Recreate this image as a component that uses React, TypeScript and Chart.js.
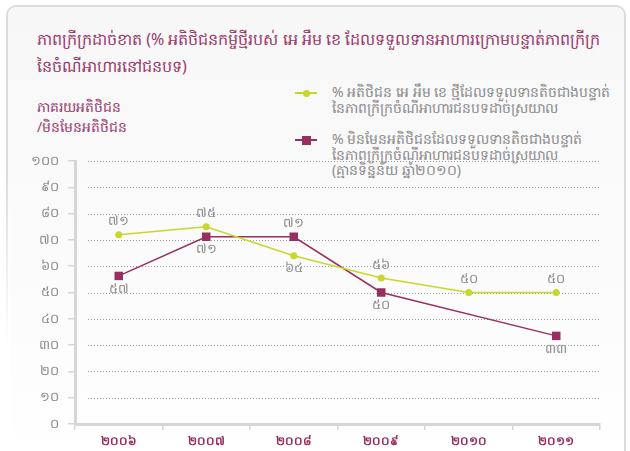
import React, { useEffect, useRef } from "react";
import { Chart, registerables } from "chart.js";

Chart.register(...registerables);

const categories = ["២០០៦", "២០០៧", "២០០៨", "២០០៩", "២០១០", "២០១១"];
const clientValues = [72, 75, 64, 55.5, 50, 50];
const nonClientValues: (number | null)[] = [56.3, 71.2, 71.2, 50, null, 33.5];
const clientLabels = ["៧១", "៧៥", "៦៤", "៥៦", "៥០", "៥០"];
const nonClientLabels = ["៥៧", "៧១", "៧១", "៥០", "", "៣៣"];
const clientLabelPos = ["above", "above", "below", "above", "above", "above"];
const nonClientLabelPos = ["below", "below", "above", "below", "below", "below"];
const yTickValues = [0, 10, 20, 30, 40, 50, 60, 70, 80, 90, 100];

const titleLines = [
  "ភាពក្រីក្រដាច់ខាត (% អតិថិជនកម្ចីថ្មីរបស់ អេ អឹម ខេ ដែលទទួលទានអាហារក្រោមបន្ទាត់ភាពក្រីក្រ",
  "នៃចំណីអាហារនៅជនបទ)",
];
const yTitleLines = ["ភាគរយអតិថិជន", "/មិនមែនអតិថិជន"];
const legendClient = [
  "% អតិថិជន អេ អឹម ខេ ថ្មីដែលទទួលទានតិចជាងបន្ទាត់",
  "នៃភាពក្រីក្រចំណីអាហារជនបទដាច់ស្រយាល",
];
const legendNonClient = [
  "% មិនមែនអតិថិជនដែលទទួលទានតិចជាងបន្ទាត់",
  "នៃភាពក្រីក្រចំណីអាហារជនបទដាច់ស្រយាល",
  "(គ្មានទិន្នន័យ ឆ្នាំ២០១០)",
];

const GREEN = "#c8d82a";
const PURPLE = "#982f61";
const TITLE_COLOR = "#9a3a6d";
const GRAY_TEXT = "#8a8a8a";
const FONT = "'Noto Sans', 'DejaVu Sans', sans-serif";

const khmerDigits = ["០", "១", "២", "៣", "៤", "៥", "៦", "៧", "៨", "៩"];
const toKhmer = (n: number) =>
  String(n)
    .split("")
    .map((c) => (c >= "0" && c <= "9" ? khmerDigits[+c] : c))
    .join("");

const gridPlugin = {
  id: "dottedGrid",
  beforeDatasetsDraw(chart: any) {
    const { ctx, chartArea, scales } = chart;
    const y = scales.y;
    ctx.save();
    ctx.strokeStyle = "#9c9c9c";
    ctx.lineWidth = 1;
    ctx.setLineDash([1, 2]);
    yTickValues.forEach((v) => {
      if (v === 0) return;
      const py = Math.round(y.getPixelForValue(v)) + 0.5;
      ctx.beginPath();
      ctx.moveTo(chartArea.left + 13, py);
      ctx.lineTo(chartArea.right, py);
      ctx.stroke();
    });
    ctx.restore();
  },
};

const labelPlugin = {
  id: "pointLabels",
  afterDatasetsDraw(chart: any) {
    const { ctx } = chart;
    const sets = [
      { labels: clientLabels, pos: clientLabelPos },
      { labels: nonClientLabels, pos: nonClientLabelPos },
    ];
    ctx.save();
    ctx.font = `13px ${FONT}`;
    ctx.fillStyle = GRAY_TEXT;
    ctx.textAlign = "center";
    ctx.textBaseline = "middle";
    sets.forEach((s, di) => {
      const meta = chart.getDatasetMeta(di);
      meta.data.forEach((pt: any, i: number) => {
        const txt = s.labels[i];
        if (!txt || pt.skip) return;
        const dy = s.pos[i] === "above" ? -13 : 13;
        ctx.fillText(txt, pt.x, pt.y + dy);
      });
    });
    ctx.restore();
  },
};

export default function App() {
  const canvasRef = useRef<HTMLCanvasElement | null>(null);

  useEffect(() => {
    if (!canvasRef.current) return;
    const chart = new Chart(canvasRef.current, {
      type: "line",
      data: {
        labels: categories,
        datasets: [
          {
            label: legendClient.join(" "),
            data: clientValues,
            borderColor: GREEN,
            backgroundColor: GREEN,
            borderWidth: 1.5,
            pointStyle: "circle",
            pointRadius: 3.5,
            pointBorderWidth: 0,
            tension: 0,
          },
          {
            label: legendNonClient.join(" "),
            data: nonClientValues,
            borderColor: PURPLE,
            backgroundColor: PURPLE,
            borderWidth: 1.5,
            pointStyle: "rect",
            pointRadius: 6,
            pointBorderWidth: 0,
            spanGaps: true,
            tension: 0,
          },
        ],
      },
      options: {
        animation: false,
        responsive: false,
        maintainAspectRatio: false,
        layout: { padding: { left: 0, right: 30, top: 161, bottom: 0 } },
        plugins: {
          legend: { display: false },
          title: { display: false },
          tooltip: { enabled: false },
        },
        scales: {
          x: {
            type: "category",
            offset: true,
            grid: {
              display: true,
              offset: true,
              drawOnChartArea: false,
              drawTicks: true,
              tickLength: 6,
              color: "#d6d6d6",
              lineWidth: 1.5,
            },
            border: { display: true, color: "#d6d6d6", width: 3 },
            ticks: {
              color: PURPLE,
              padding: 4,
              font: { family: FONT, size: 12, weight: "bold" },
            },
            afterFit: (scale: any) => {
              scale.height = 27;
            },
          },
          y: {
            min: 0,
            max: 100,
            grid: {
              display: true,
              drawOnChartArea: false,
              drawTicks: true,
              tickLength: 7,
              color: "#d6d6d6",
              lineWidth: 1.5,
            },
            border: { display: true, color: "#d6d6d6", width: 3 },
            ticks: {
              stepSize: 10,
              color: GRAY_TEXT,
              padding: 9,
              font: { family: FONT, size: 13 },
              callback: (v: any) => toKhmer(Number(v)),
            },
            afterFit: (scale: any) => {
              scale.width = 75;
            },
          },
        },
      },
      plugins: [gridPlugin, labelPlugin],
    } as any);
    return () => chart.destroy();
  }, []);

  const legendRow = (lines: string[], top: number, marker: "circle" | "rect") => (
    <div style={{ position: "absolute", left: 295, top, width: 330 }}>
      <div
        style={{
          position: "absolute",
          left: 0,
          top: 7,
          width: 22,
          height: 1.5,
          background: marker === "circle" ? GREEN : PURPLE,
        }}
      />
      <div
        style={{
          position: "absolute",
          left: marker === "circle" ? 7.5 : 6.5,
          top: marker === "circle" ? 4.5 : 3.5,
          width: marker === "circle" ? 7 : 9,
          height: marker === "circle" ? 7 : 9,
          borderRadius: marker === "circle" ? "50%" : 0,
          background: marker === "circle" ? GREEN : PURPLE,
        }}
      />
      <div
        style={{
          position: "absolute",
          left: 37,
          top: -1,
          fontFamily: FONT,
          fontSize: 14,
          lineHeight: "15.5px",
          color: GRAY_TEXT,
          whiteSpace: "nowrap",
        }}
      >
        {lines.map((l, i) => (
          <div key={i}>{l}</div>
        ))}
      </div>
    </div>
  );

  return (
    <div
      style={{
        position: "fixed",
        left: 0,
        top: 0,
        width: 630,
        height: 451,
        overflow: "hidden",
        background: "#fff",
      }}
    >
      <div
        style={{
          position: "absolute",
          left: 6,
          top: 5,
          width: 616,
          height: 470,
          border: "2px solid #dcdcdc",
          borderRadius: 10,
          background: "linear-gradient(to bottom, #f7f7f7 0%, #fbfbfb 50%, #ffffff 100%)",
        }}
      />
      <div
        style={{
          position: "absolute",
          left: 3,
          top: 180,
          width: 8,
          height: 280,
          background: "linear-gradient(to bottom, rgba(255,255,255,0) 0%, #ffffff 60%)",
        }}
      />
      <div
        style={{
          position: "absolute",
          left: 37,
          top: 26,
          fontFamily: FONT,
          fontSize: 16,
          lineHeight: "27px",
          color: TITLE_COLOR,
          whiteSpace: "nowrap",
        }}
      >
        {titleLines.map((l, i) => (
          <div key={i}>{l}</div>
        ))}
      </div>
      <div
        style={{
          position: "absolute",
          left: 37,
          top: 97,
          fontFamily: FONT,
          fontSize: 14,
          lineHeight: "20px",
          color: TITLE_COLOR,
          whiteSpace: "nowrap",
        }}
      >
        {yTitleLines.map((l, i) => (
          <div key={i}>{l}</div>
        ))}
      </div>
      {legendRow(legendClient, 85, "circle")}
      {legendRow(legendNonClient, 132, "rect")}
      <canvas
        ref={canvasRef}
        width={630}
        height={451}
        style={{ position: "absolute", left: 0, top: 0, width: 630, height: 451 }}
      />
    </div>
  );
}
